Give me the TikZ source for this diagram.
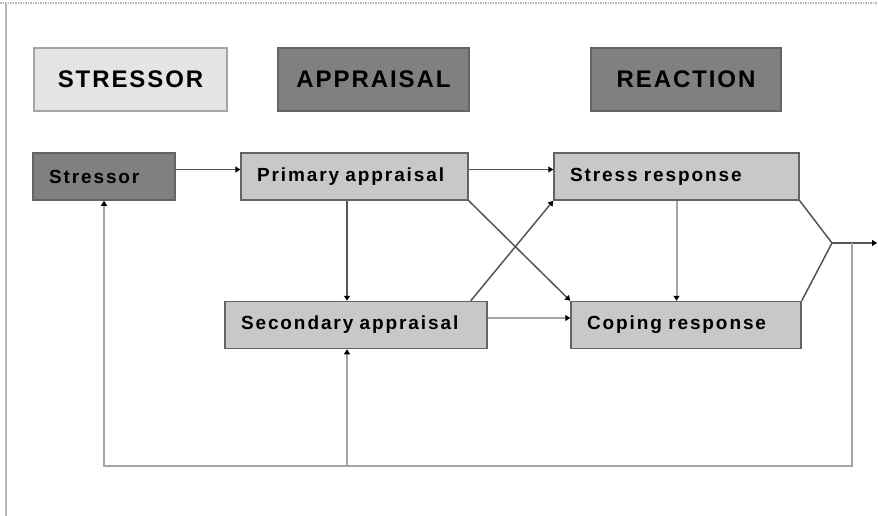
\documentclass[tikz,border=0pt]{standalone}
\usepackage{fontspec}
\setmainfont{Liberation Sans}
\newfontfamily\keyfont[LetterSpace=8]{Liberation Sans}
\newfontfamily\boxfont[LetterSpace=10]{Liberation Sans}
\definecolor{stkeylight}{RGB}{228,228,228}
\definecolor{stkeydark}{RGB}{128,128,128}
\definecolor{stboxfill}{RGB}{200,200,200}
\definecolor{stedge}{RGB}{100,100,100}
\definecolor{stline}{RGB}{85,85,85}
\definecolor{stlinelight}{RGB}{165,165,165}
\definecolor{stframe}{RGB}{185,185,185}
\usepackage{tikz}
\usetikzlibrary{arrows.meta}

\begin{document}
\begin{tikzpicture}[x=1pt, y=-1pt,
    key/.style={draw=stedge, line width=2pt, minimum width=#1, minimum height=63pt,
        font=\keyfont\bfseries\fontsize{24}{28}\selectfont},
    stage/.style={draw=stedge, line width=1.5pt, fill=stboxfill, minimum height=47pt,
        inner xsep=16pt, text width=#1, align=left,
        font=\boxfont\bfseries\fontsize{19}{22}\selectfont},
    flow/.style={stline, line width=1.5pt, -{Triangle[length=5pt,width=6pt,color=black]}},
    flowlight/.style={stlinelight, line width=2pt, -{Triangle[length=5pt,width=6pt,color=black]}},
    link/.style={stline, line width=1.5pt}]
                \useasboundingbox (0,0) rectangle (878,516);

                % Frame of the page
                \draw[stframe, line width=1.5pt, densely dotted] (0,3) -- (878,3);
                \draw[stframe, line width=2pt] (6,3) -- (6,516);

                % Legend
                \node[key=193pt, fill=stkeylight, draw=stlinelight] (keystressor) at (130.5,79.5) {STRESSOR};
                \node[key=191pt, fill=stkeydark] (keyappraisal) at (373.5,79.5) {APPRAISAL};
                \node[key=190pt, fill=stkeydark] (keyreaction) at (686,79.5) {REACTION};

                % Stages
                \node[stage=110pt, fill=stkeydark] (stressor) at (104,176.5) {Stressor};
                \node[stage=195pt] (primary) at (354.5,176.5) {Primary appraisal};
                \node[stage=213pt] (stress) at (676.5,176.5) {Stress response};
                \node[stage=230pt] (secondary) at (356,325) {Secondary appraisal};
                \node[stage=198pt] (coping) at (686,325) {Coping response};

                % Forward links
                \draw[flow] ([yshift=7pt]stressor.east) -- ([yshift=7pt]primary.west);
                \draw[flow] ([yshift=7pt]primary.east) -- ([yshift=7pt]stress.west);
                \draw[flow] ([xshift=-7.5pt]primary.south) -- ([xshift=-7.5pt]primary.south |- secondary.north);
                \draw[flow] (primary.south east) -- (coping.north west);
                \draw[flow] ([xshift=-17pt]secondary.north east) -- (stress.south west);
                \draw[flowlight] ([yshift=7pt]secondary.east) -- ([yshift=7pt]coping.west);
                \draw[flowlight] (stress.south) -- (stress.south |- coping.north);

                % Reaction joins and feeds back
                \coordinate (merge) at (832,243);
                \coordinate (tap) at (852,243);
                \coordinate (out) at (877,243);
                \coordinate (loop) at (852,466);
                \draw[link] (stress.south east) -- (merge) -- (coping.north east);
                \draw[flow] (merge) -- (out);
                \draw[flowlight] (tap) -- (loop) -| (stressor.south);
                \draw[flowlight] ([xshift=-9pt]secondary.south |- loop) -- ([xshift=-9pt]secondary.south);
            \end{tikzpicture}
\end{document}
